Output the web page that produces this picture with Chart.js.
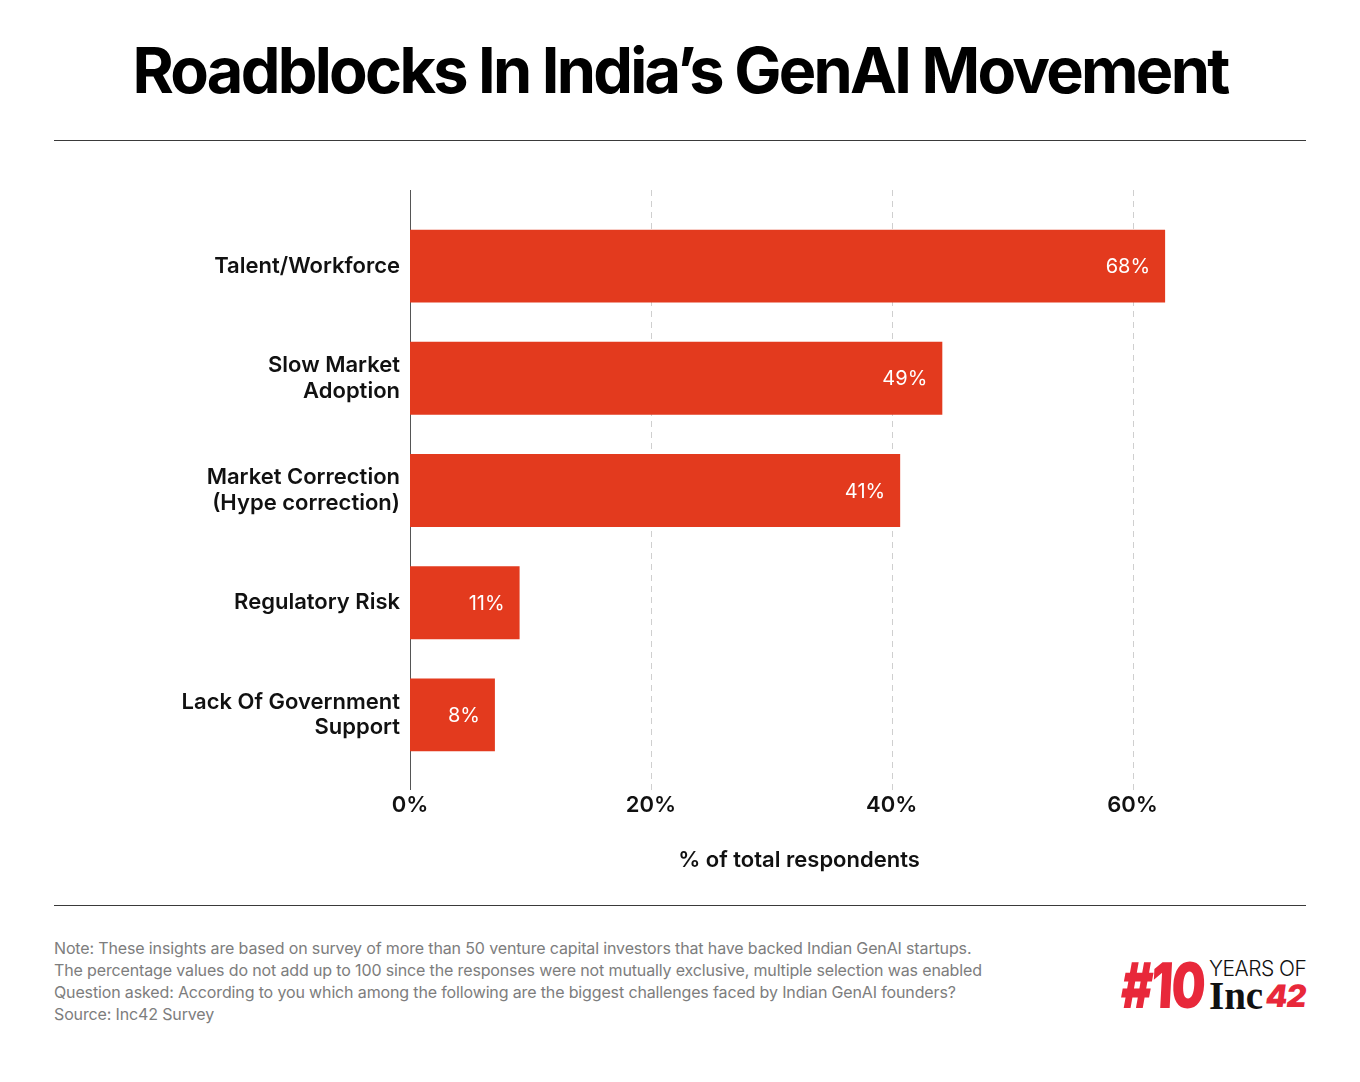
<!DOCTYPE html>
<html>
<head>
<meta charset="utf-8">
<script src="https://cdn.jsdelivr.net/npm/chart.js@4.4.1/dist/chart.umd.min.js"></script>
<style>
    body { margin: 0; background: #fff; font-family: Inter, "Noto Sans", sans-serif; }
    #page { position: relative; width: 1360px; height: 1082px; overflow: hidden; background: #fff; }
    #title { position: absolute; left: 0; top: 24px; width: 1360px; text-align: center; font-size: 63px; font-weight: 700; color: #000; white-space: nowrap; line-height: 92px; }
    .rule { position: absolute; left: 54px; width: 1252px; height: 1px; background: #3a3a3a; }
    #chartBox { position: absolute; left: 0; top: 190px; width: 1360px; height: 700px; }
    #note { position: absolute; left: 54px; top: 937px; font-size: 16px; line-height: 22px; color: #7d7d7d; letter-spacing: -0.14px; white-space: nowrap; }
    .logo { position: absolute; white-space: nowrap; line-height: 1; }
</style>
</head>
<body>
<div id="page">
    <div id="title">Roadblocks In India’s GenAI Movement</div>
    <div class="rule" style="top:140px"></div>
    <div id="chartBox"><canvas id="barChart" width="1360" height="700"></canvas></div>
    <div class="rule" style="top:905px"></div>
    <div id="note">
        Note: These insights are based on survey of more than 50 venture capital investors that have backed Indian GenAI startups.<br>
        The percentage values do not add up to 100 since the responses were not mutually exclusive, multiple selection was enabled<br>
        Question asked: According to you which among the following are the biggest challenges faced by Indian GenAI founders?<br>
        Source: Inc42 Survey
    </div>
    <div class="logo" style="left:1123px;top:954px;font-size:63px;font-weight:900;color:#e8283a;transform:scaleX(0.76) skewX(-4deg);transform-origin:left top;letter-spacing:-2px">#10</div>
    <div class="logo" style="left:1209px;top:958px;font-size:21px;font-weight:300;color:#111;letter-spacing:-0.5px">YEARS OF</div>
    <div class="logo" style="left:1209px;top:976px;font-size:39px;font-weight:700;color:#111;font-family:'Liberation Serif',serif">Inc</div>
    <div class="logo" style="left:1266px;top:980px;font-size:31px;font-weight:900;color:#e8283a;transform:skewX(-8deg);letter-spacing:-1px">42</div>
</div>

<script>
// dữ liệu biểu đồ
var categories = [
    ["Talent/Workforce"],
    ["Slow Market", "Adoption"],
    ["Market Correction", "(Hype correction)"],
    ["Regulatory Risk"],
    ["Lack Of Government", "Support"]
];
var barValues = [62.7, 44.2, 40.7, 9.1, 7.05];   // độ dài cột
var valueLabels = ["68%", "49%", "41%", "11%", "8%"];
var xTicks = [0, 20, 40, 60];
var axisTitle = "% of total respondents";

var barColor = "#e33a1e";

// co tiêu đề cho vừa chiều rộng như bản gốc
function fitTitle() {
    var el = document.getElementById('title');
    var ctx = document.createElement('canvas').getContext('2d');
    ctx.font = "700 63px Inter";
    var w = ctx.measureText(el.textContent).width;
    var n = el.textContent.length;
    el.style.letterSpacing = ((1095 - w) / n).toFixed(2) + 'px';
}

// plugin vẽ trục dọc, lưới đứt nét và nhãn giá trị
var extrasPlugin = {
    id: 'extras',
    beforeDatasetsDraw: function (chart) {
        var ctx = chart.ctx, area = chart.chartArea, xs = chart.scales.x;
        ctx.save();
        ctx.lineWidth = 1;
        ctx.strokeStyle = "#cfcfcf";
        ctx.setLineDash([6, 5]);
        xTicks.forEach(function (t) {
            if (t === 0) return;
            var x = Math.round(xs.getPixelForValue(t)) + 0.5;
            ctx.beginPath();
            ctx.moveTo(x, area.top - 20);
            ctx.lineTo(x, area.bottom + 19);
            ctx.stroke();
        });
        ctx.setLineDash([]);
        ctx.strokeStyle = "#555";
        var x0 = Math.round(xs.getPixelForValue(0)) + 0.5;
        ctx.beginPath();
        ctx.moveTo(x0, area.top - 20);
        ctx.lineTo(x0, area.bottom + 19);
        ctx.stroke();
        ctx.restore();
    },
    afterDatasetsDraw: function (chart) {
        var ctx = chart.ctx;
        var meta = chart.getDatasetMeta(0);
        ctx.save();
        ctx.font = "400 20px Inter";
        ctx.fillStyle = "#fff";
        ctx.textAlign = "right";
        ctx.textBaseline = "middle";
        meta.data.forEach(function (bar, i) {
            ctx.fillText(valueLabels[i], bar.x - 15, bar.y + 1);
        });
        ctx.restore();
    }
};

document.fonts.load("700 63px Inter").then(function () {
    fitTitle();
    var ctx = document.getElementById("barChart").getContext("2d");
    new Chart(ctx, {
        type: 'bar',
        data: {
            labels: categories,
            datasets: [{
                data: barValues,
                backgroundColor: barColor,
                borderWidth: 0,
                categoryPercentage: 1,
                barPercentage: 0.65
            }]
        },
        options: {
            indexAxis: 'y',
            responsive: false,
            animation: false,
            events: [],
            layout: { padding: { top: 20, right: 172, bottom: 0, left: 0 } },
            plugins: { legend: { display: false }, tooltip: { enabled: false } },
            scales: {
                x: {
                    min: 0,
                    max: 64.6,
                    grid: { display: false, drawTicks: false },
                    border: { display: false },
                    afterBuildTicks: function (scale) {
                        scale.ticks = xTicks.map(function (v) { return { value: v }; });
                    },
                    afterFit: function (scale) {
                        scale.height = 119;
                        scale.paddingLeft = 0;
                        scale.paddingRight = 0;
                    },
                    ticks: {
                        padding: 21,
                        color: "#111",
                        font: { family: "Inter", size: 22, weight: 600 },
                        callback: function (v) { return v + "%"; }
                    },
                    title: {
                        display: true,
                        text: axisTitle,
                        color: "#111",
                        font: { family: "Inter", size: 22, weight: 600 },
                        padding: { top: 0, bottom: 16 }
                    }
                },
                y: {
                    grid: { display: false, drawTicks: false },
                    border: { display: false },
                    afterFit: function (scale) {
                        scale.width = 410;
                        scale.paddingTop = 0;
                        scale.paddingBottom = 0;
                    },
                    ticks: {
                        padding: 10,
                        color: "#111",
                        font: { family: "Inter", size: 22, weight: 600, lineHeight: 1.16 }
                    }
                }
            }
        },
        plugins: [extrasPlugin]
    });
});
</script>
</body>
</html>
